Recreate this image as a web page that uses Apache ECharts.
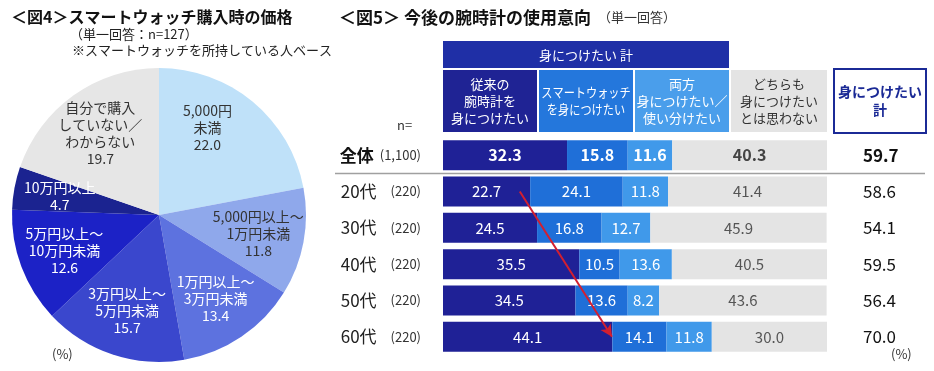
<!DOCTYPE html>
<html>
<head>
<meta charset="utf-8">
<script src="https://cdn.jsdelivr.net/npm/echarts@6/dist/echarts.min.js"></script>
<style>
  html, body { margin: 0; padding: 0; background: #fff; }
  #main { width: 934px; height: 371px; }
</style>
</head>
<body>
<div id="main"></div>
<script>
// 図4 pie
var pieNames = ['5,000円\n未満', '5,000円以上～\n1万円未満', '1万円以上～\n3万円未満', '3万円以上～\n5万円未満', '5万円以上～\n10万円未満', '10万円以上', '自分で購入\nしていない／\nわからない'];
var pieValues = [22.0, 11.8, 13.4, 15.7, 12.6, 4.7, 19.7];

// 図5 stacked bars
var rowNames = ['全体', '20代', '30代', '40代', '50代', '60代'];
var rowN = ['1,100', '220', '220', '220', '220', '220'];
var seriesNames = ['従来の腕時計を身につけたい', 'スマートウォッチを身につけたい', '両方身につけたい／使い分けたい', 'どちらも身につけたいとは思わない'];
var classicWatch = [32.3, 22.7, 24.5, 35.5, 34.5, 44.1];
var smartWatch = [15.8, 24.1, 16.8, 10.5, 13.6, 14.1];
var bothWatch = [11.6, 11.8, 12.7, 13.6, 8.2, 11.8];
var neither = [40.3, 41.4, 45.9, 40.5, 43.6, 30.0];
var wantTotal = [59.7, 58.6, 54.1, 59.5, 56.4, 70.0];

var FONT = '"Noto Sans CJK JP", "Noto Sans", sans-serif';
var pieColors = ['#bfe1f9', '#8fa8eb', '#5d72df', '#3a47cd', '#1c22c6', '#1b2390', '#e6e6e6'];
var pieTextColors = ['#333', '#333', '#fff', '#fff', '#fff', '#fff', '#333'];
var barColors = ['#1f2196', '#1f6fd8', '#4099ea', '#e4e4e4'];
var barSeriesData = [classicWatch, smartWatch, bothWatch, neither];

var chart = echarts.init(document.getElementById('main'));

var pieLabelData = pieNames.map(function (n, i) {
  var d = {
    name: n, value: pieValues[i],
    label: { color: pieTextColors[i] }
  };
  if (i === 0) d.label.offset = [-16, -10];
  return d;
});

var barSeries = barSeriesData.map(function (vals, si) {
  var s = {
    name: seriesNames[si],
    type: 'bar',
    stack: 'all',
    barWidth: 30,
    itemStyle: { color: barColors[si] },
    label: {
      show: true,
      position: 'inside',
      fontFamily: FONT,
      fontSize: 15,
      color: si === 3 ? '#555' : '#fff',
      formatter: function (p) { return p.value.toFixed(1); }
    },
    data: vals.map(function (v, i) {
      var d = { value: v };
      if (i === 0) d.label = { fontWeight: 'bold', fontSize: 16, color: si === 3 ? '#444' : '#fff' };
      return d;
    })
  };
  if (si === 0) {
    s.markLine = {
      silent: true,
      symbol: ['none', 'arrow'],
      symbolSize: [9, 12],
      label: { show: false },
      lineStyle: { color: '#d21f30', width: 2, type: 'solid' },
      data: [[{ coord: [20, rowNames[1]] }, { coord: [44, rowNames[5]] }]]
    };
  }
  return s;
});

function headerBox(x, y, w, h, fill) {
  return { type: 'rect', shape: { x: x, y: y, width: w, height: h }, style: { fill: fill } };
}
function headerText(cx, cy, text, color, sx) {
  return {
    type: 'text', x: cx, y: cy, scaleX: sx || 1, z: 10,
    style: { text: text, fill: color, fontFamily: FONT, fontSize: 13, lineHeight: 17, align: 'center', verticalAlign: 'middle' }
  };
}

chart.setOption({
  animation: false,
  textStyle: { fontFamily: FONT },
  title: [
    { text: '＜図4＞スマートウォッチ購入時の価格', left: 6, top: 4, textStyle: { fontSize: 16, fontWeight: 'bold', color: '#111', fontFamily: FONT } },
    { text: '＜図5＞ 今後の腕時計の使用意向', left: 334, top: 4, textStyle: { fontSize: 17, fontWeight: 'bold', color: '#111', fontFamily: FONT } }
  ],
  graphic: [
    { type: 'text', left: 70, top: 28, style: { text: '（単一回答：n=127）', fontSize: 13, fill: '#222', fontFamily: FONT } },
    { type: 'text', left: 72, top: 44, style: { text: '※スマートウォッチを所持している人ベース', fontSize: 13, fill: '#222', fontFamily: FONT } },
    { type: 'text', left: 52, top: 348, style: { text: '(%)', fontSize: 13, fill: '#333', fontFamily: FONT } },
    { type: 'text', left: 598, top: 11, style: { text: '（単一回答）', fontSize: 13, fill: '#333', fontFamily: FONT } },
    { type: 'text', left: 397, top: 119, style: { text: 'n=', fontSize: 13, fill: '#333', fontFamily: FONT } },
    { type: 'text', left: 891, top: 348, style: { text: '(%)', fontSize: 13, fill: '#333', fontFamily: FONT } },
    headerBox(443, 41, 286, 27, '#1f2fa6'),
    headerText(586, 55, '身につけたい 計', '#fff'),
    headerBox(443, 70, 94, 62, '#1f2394'),
    headerText(490, 101, '従来の\n腕時計を\n身につけたい', '#fff'),
    headerBox(539, 70, 94, 62, '#2477dc'),
    headerText(586, 101, 'スマートウォッチ\nを身につけたい', '#fff', 0.86),
    headerBox(635, 70, 94, 62, '#4a9eeb'),
    headerText(682, 101, '両方\n身につけたい／\n使い分けたい', '#fff'),
    headerBox(731, 70, 96, 62, '#e4e4e4'),
    headerText(779, 101, 'どちらも\n身につけたい\nとは思わない', '#333'),
    {
      type: 'rect',
      shape: { x: 834, y: 69, width: 92, height: 64 },
      style: { fill: '#fff', stroke: '#1b2a96', lineWidth: 2 }
    },
    {
      type: 'text', x: 880, y: 101, z: 10,
      style: { text: '身につけたい\n計', fill: '#1b2a96', fontFamily: FONT, fontSize: 14, lineHeight: 18, fontWeight: 'bold', align: 'center', verticalAlign: 'middle' }
    },
    { type: 'line', shape: { x1: 335, y1: 173.5, x2: 925, y2: 173.5 }, style: { stroke: '#a0a0a0', lineWidth: 1.5 } }
  ],
  grid: { left: 443, right: 107, top: 137, bottom: 16, containLabel: false },
  xAxis: { type: 'value', min: 0, max: 100, show: false },
  yAxis: [
    {
      type: 'category',
      data: rowNames,
      inverse: true,
      axisLine: { show: false },
      axisTick: { show: false },
      axisLabel: {
        margin: 22,
        formatter: function (v, i) {
          return (i === 0 ? '{b|' + v + '}{sb|(' + rowN[i] + ')}' : '{a|' + v + '}{s|(' + rowN[i] + ')}');
        },
        rich: {
          a: { fontSize: 17, color: '#222', fontFamily: FONT },
          b: { fontSize: 17, color: '#111', fontWeight: 'bold', fontFamily: FONT },
          s: { fontSize: 13, color: '#333', padding: [0, 0, 0, 14], fontFamily: FONT },
          sb: { fontSize: 13, color: '#333', padding: [0, 0, 0, 6], fontFamily: FONT }
        }
      }
    },
    {
      type: 'category',
      data: rowNames,
      inverse: true,
      position: 'right',
      axisLine: { show: false },
      axisTick: { show: false },
      axisLabel: {
        margin: 36,
        fontSize: 17,
        color: '#111',
        fontFamily: FONT,
        formatter: function (v, i) {
          return i === 0 ? '{b|' + wantTotal[i].toFixed(1) + '}' : wantTotal[i].toFixed(1);
        },
        rich: { b: { fontSize: 17, fontWeight: 'bold', color: '#111', fontFamily: FONT } }
      }
    }
  ],
  series: [
    {
      type: 'pie',
      center: [159, 215],
      radius: 147,
      startAngle: 90,
      silent: true,
      label: { show: false },
      labelLine: { show: false },
      data: pieValues.map(function (v, i) {
        return { name: pieNames[i], value: v, itemStyle: { color: pieColors[i] } };
      })
    },
    {
      type: 'pie',
      center: [159, 215],
      radius: 196,
      startAngle: 90,
      silent: true,
      itemStyle: { color: 'rgba(0,0,0,0)' },
      label: {
        show: true,
        position: 'inside',
        fontFamily: FONT,
        fontSize: 14,
        lineHeight: 17,
        formatter: function (p) { return p.name + '\n' + p.value.toFixed(1); }
      },
      labelLine: { show: false },
      data: pieLabelData
    }
  ].concat(barSeries)
});
</script>
</body>
</html>
